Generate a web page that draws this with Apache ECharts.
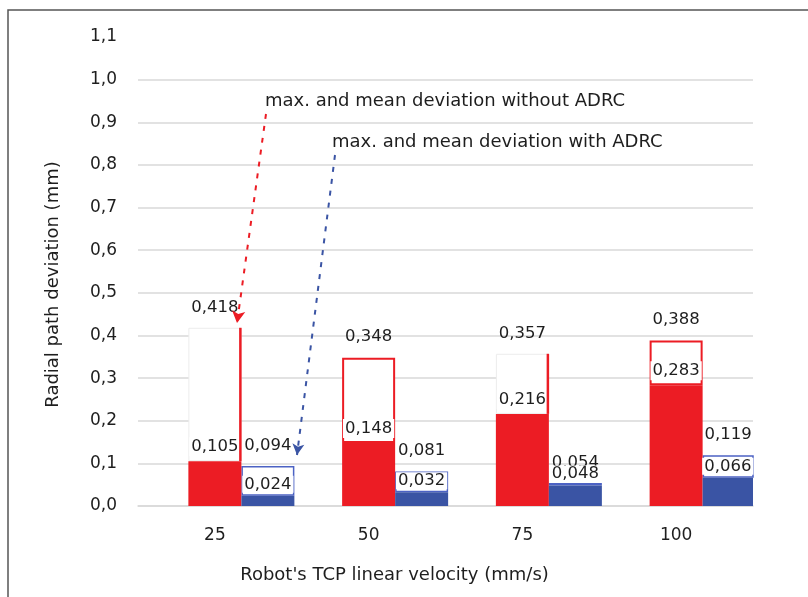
<!DOCTYPE html>
<html>
<head>
<meta charset="utf-8">
<title>Radial path deviation</title>
<script src="https://cdn.jsdelivr.net/npm/echarts@6/dist/echarts.min.js"></script>
<style>
  html, body { margin: 0; padding: 0; background: #ffffff; }
  #chart { width: 808px; height: 597px; }
</style>
</head>
<body>
<div id="chart"></div>
<script>
// Robot TCP velocities (mm/s)
const velocities = ['25', '50', '75', '100'];
// Radial path deviation (mm) without ADRC
const maxWithoutAdrc = [0.418, 0.348, 0.357, 0.388];
const meanWithoutAdrc = [0.105, 0.148, 0.216, 0.283];
// Radial path deviation (mm) with ADRC
const maxWithAdrc = [0.094, 0.081, 0.054, 0.119];
const meanWithAdrc = [0.024, 0.032, 0.048, 0.066];
// Value axis
const yTicks = { min: 0, max: 1.1, step: 0.1 };
const noteWithout = 'max. and mean deviation without ADRC';
const noteWith = 'max. and mean deviation with ADRC';

const RED = '#ec1c24';
const BLUE = '#3a54a4';
const FONT = 'DejaVu Sans';
const TEXT = '#1e1e1e';
const BAR_W = 53;
// boxes drawn only with a coloured right edge
const openBoxes = new Set(['25', '75']);

const fmt = v => v.toFixed(3).replace('.', ',');

const chart = echarts.init(document.getElementById('chart'), null, { renderer: 'canvas' });

const redRest = velocities.map((c, i) => {
  const item = { value: +(maxWithoutAdrc[i] - meanWithoutAdrc[i]).toFixed(4) };
  if (openBoxes.has(c)) item.itemStyle = { borderColor: '#ececec', borderWidth: 1 };
  return item;
});
const blueRest = velocities.map((c, i) => +(maxWithAdrc[i] - meanWithAdrc[i]).toFixed(4));

const edgeData = velocities
  .map((c, i) => [i, maxWithoutAdrc[i], meanWithoutAdrc[i]])
  .filter(d => openBoxes.has(velocities[d[0]]));

const labelBase = { show: true, color: TEXT, fontFamily: FONT, fontSize: 16.5 };

// split lines: every tick except the top one
const nTicks = Math.round((yTicks.max - yTicks.min) / yTicks.step) + 1;
const splitColors = [];
for (let k = 0; k < nTicks; k++) splitColors.push(k === nTicks - 1 ? 'rgba(0,0,0,0)' : '#d9d9d9');

chart.setOption({
  animation: false,
  backgroundColor: '#ffffff',
  grid: { left: 138, right: 55, top: 37, bottom: 91, containLabel: false },
  xAxis: {
    type: 'category',
    data: velocities,
    axisLine: { show: true, lineStyle: { color: '#d9d9d9', width: 1.5 } },
    axisTick: { show: false },
    axisLabel: { color: TEXT, fontFamily: FONT, fontSize: 17, margin: 21 },
    name: "Robot's TCP linear velocity (mm/s)",
    nameLocation: 'middle',
    nameGap: 60,
    nameTextStyle: { color: TEXT, fontFamily: FONT, fontSize: 18, padding: [0, 102, 0, 0] }
  },
  yAxis: {
    type: 'value',
    min: yTicks.min,
    max: yTicks.max,
    interval: yTicks.step,
    axisLine: { show: false },
    axisTick: { show: false },
    axisLabel: {
      color: TEXT, fontFamily: FONT, fontSize: 17, margin: 21,
      formatter: v => v.toFixed(1).replace('.', ',')
    },
    splitLine: { show: true, lineStyle: { color: splitColors, width: 1.5 } },
    name: 'Radial path deviation (mm)',
    nameLocation: 'middle',
    nameGap: 76,
    nameRotate: 90,
    nameTextStyle: { color: TEXT, fontFamily: FONT, fontSize: 18, padding: [0, 26, 0, 0] }
  },
  graphic: [
    {
      type: 'polyline',
      shape: { points: [[8, 597], [8, 10], [808, 10]] },
      style: { stroke: '#555555', lineWidth: 1.5, fill: null },
      silent: true
    },
    {
      type: 'text', left: 265, top: 92,
      style: { text: noteWithout, fill: TEXT, font: '18px "DejaVu Sans"' }
    },
    {
      type: 'text', left: 332, top: 133,
      style: { text: noteWith, fill: TEXT, font: '18px "DejaVu Sans"' }
    }
  ],
  series: [
    // empty slot to the left of each pair, keeps the red column centred on the tick
    { name: 'slot', type: 'bar', stack: 'slot', barWidth: BAR_W, barGap: '0%', data: [] },
    {
      name: 'mean without ADRC', type: 'bar', stack: 'without', barWidth: BAR_W, barGap: '0%', z: 3,
      data: meanWithoutAdrc,
      itemStyle: { color: RED },
      label: Object.assign({}, labelBase, {
        position: 'top', distance: 5,
        backgroundColor: '#ffffff', padding: [1, 2],
        formatter: p => fmt(meanWithoutAdrc[p.dataIndex])
      })
    },
    {
      name: 'max without ADRC', type: 'bar', stack: 'without', barWidth: BAR_W, barGap: '0%', z: 2,
      data: redRest,
      itemStyle: { color: '#ffffff', borderColor: RED, borderWidth: 2 },
      label: Object.assign({}, labelBase, {
        position: 'top', distance: 12,
        formatter: p => fmt(maxWithoutAdrc[p.dataIndex])
      }),
      markLine: {
        silent: true,
        symbol: ['none', 'arrow'],
        symbolSize: [10, 12],
        label: { show: false },
        lineStyle: { color: RED, type: [5, 7], width: 2 },
        data: [[{ x: 266, y: 114 }, { x: 237, y: 323 }]]
      }
    },
    {
      name: 'mean with ADRC', type: 'bar', stack: 'with', barWidth: BAR_W, barGap: '0%', z: 3,
      data: meanWithAdrc,
      itemStyle: { color: BLUE },
      label: Object.assign({}, labelBase, {
        position: 'top', distance: 3,
        backgroundColor: '#ffffff', padding: [0, 2],
        formatter: p => fmt(meanWithAdrc[p.dataIndex])
      })
    },
    {
      name: 'max with ADRC', type: 'bar', stack: 'with', barWidth: BAR_W, barGap: '0%', z: 2,
      data: blueRest,
      itemStyle: { color: '#ffffff', borderColor: '#4c62c4', borderWidth: 1.5 },
      label: Object.assign({}, labelBase, {
        position: 'top', distance: 12,
        formatter: p => fmt(maxWithAdrc[p.dataIndex])
      }),
      markLine: {
        silent: true,
        symbol: ['none', 'arrow'],
        symbolSize: [9, 11],
        label: { show: false },
        lineStyle: { color: BLUE, type: [5, 7], width: 2 },
        data: [[{ x: 335, y: 155 }, { x: 297, y: 455 }]]
      }
    },
    {
      // coloured right edge of the open boxes
      name: 'edge', type: 'custom', z: 4, silent: true,
      data: edgeData,
      renderItem: (params, api) => {
        const top = api.coord([api.value(0), api.value(1)]);
        const bottom = api.coord([api.value(0), api.value(2)]);
        const x = top[0] + BAR_W / 2 - 1;
        return {
          type: 'line',
          shape: { x1: x, y1: top[1], x2: x, y2: bottom[1] },
          style: { stroke: RED, lineWidth: 2.5 }
        };
      }
    }
  ]
});
</script>
</body>
</html>
